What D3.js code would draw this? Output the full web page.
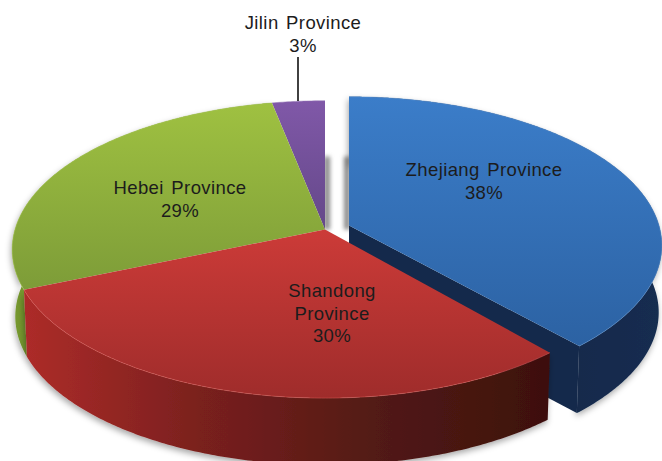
<!DOCTYPE html>
<html>
<head>
<meta charset="utf-8">
<script src="https://cdn.jsdelivr.net/npm/d3@7"></script>
<style>
	html, body { margin: 0; padding: 0; background: #fff; overflow: hidden; }
	text { font-family: "Liberation Sans", Arial, sans-serif; font-size: 18.5px; letter-spacing: 0.4px; word-spacing: 2px; fill: #1c1c1c; text-anchor: middle; }
</style>
</head>
<body>
<div id="chart-area"></div>
<script>
let width = 662;
let height = 461;

// Data
let provinces = ["Zhejiang Province", "Shandong Province", "Hebei Province", "Jilin Province"];
let shares = [38.7, 29.9, 28.3, 3.1];
let percentLabels = ["38%", "30%", "29%", "3%"];

// Colours per slice: top surface gradient, rim, wall stops
let topLight = ["#3b7dc9", "#cc3b38", "#9fc141", "#8058a8"];
let topDark = ["#2c62a3", "#9f2c2b", "#7d9c38", "#644889"];
let rimColor = ["#5b93d4", "#dc5a55", "#aecb5e", "#9373b5"];
let wallStops = [
	["#14294b", "#14294b", "#14294b", "#162d50"],
	["#ad2c29", "#7a201e", "#521a15", "#3d100d"],
	["#76982f", "#6f9030", "#68882c", "#60802a"],
	["#5a4080", "#5a4080", "#4a3468", "#4a3468"]
];

let svg = d3.select("#chart-area")
	.append("svg")
	.attr("width", width)
	.attr("height", height);

let defs = svg.append("defs");

// Tilted circle: k gives the perspective, so the near edge is bigger than the far edge
let k = 0.134;
let wallHeight = 67;
let bottomShrink = 0.99;
let centerX = 325;
let centerY = 229.5;

let xScale = d3.scaleLinear().domain([-1, 1]).range([centerX - 310, centerX + 310]);
let yScale = d3.scaleLinear().domain([-1, 1]).range([centerY - 146, centerY + 146]);

// Only Zhejiang is pulled out of the pie
let explodeX = [24, 0, 0, 0];
let explodeY = [-4, 0, 0, 0];

function project(angle, r, i, lower) {
	let u = r * Math.sin(angle);
	let v = -r * Math.cos(angle);
	let div = 1 - k * v;
	let x = xScale(u / div);
	let y = yScale(v / div);
	if (lower) {
		x = centerX + (x - centerX) * bottomShrink;
		y += wallHeight;
	}
	return [x + explodeX[i], y + explodeY[i]];
}

function arcPoints(d, i, lower) {
	let steps = Math.ceil((d.endAngle - d.startAngle) / 0.01);
	return d3.range(steps + 1).map(s => {
		let a = d.startAngle + (d.endAngle - d.startAngle) * s / steps;
		return project(a, 1, i, lower);
	});
}

let line = d3.line();

let pie = d3.pie().sort(null);
let slices = pie(shares);

// small gap between the pulled out slice and its neighbour
slices[0].endAngle -= 0.022;

// Gradients
slices.forEach((d, i) => {
	let top = defs.append("linearGradient")
		.attr("id", "top" + i)
		.attr("x1", 0).attr("y1", 0).attr("x2", 0).attr("y2", 1);
	top.append("stop").attr("offset", "0%").attr("stop-color", topLight[i]);
	top.append("stop").attr("offset", "100%").attr("stop-color", topDark[i]);

	let wall = defs.append("linearGradient")
		.attr("id", "wall" + i)
		.attr("x1", 0).attr("y1", 0).attr("x2", 1).attr("y2", 0);
	wallStops[i].forEach((c, j) => {
		wall.append("stop")
			.attr("offset", (j / (wallStops[i].length - 1) * 100) + "%")
			.attr("stop-color", c);
	});
});

let shadow = defs.append("filter")
	.attr("id", "soft")
	.attr("x", "-10%").attr("y", "-10%").attr("width", "120%").attr("height", "125%");
shadow.append("feDropShadow")
	.attr("dx", -1).attr("dy", 3)
	.attr("stdDeviation", 3)
	.attr("flood-color", "#000")
	.attr("flood-opacity", 0.35);

let blur = defs.append("filter")
	.attr("id", "blur")
	.attr("filterUnits", "userSpaceOnUse")
	.attr("x", 300).attr("y", 130).attr("width", 80).attr("height", 120);
blur.append("feGaussianBlur").attr("stdDeviation", 2);

function drawWall(d, i) {
	let upper = arcPoints(d, i, false);
	let lowerPts = arcPoints(d, i, true).reverse();
	svg.append("path")
		.attr("d", line(upper.concat(lowerPts)) + "Z")
		.attr("fill", `url(#wall${i})`)
		.attr("filter", "url(#soft)");
}

function drawTop(d, i) {
	let apex = project(0, 0, i, false);
	svg.append("path")
		.attr("d", line([apex].concat(arcPoints(d, i, false))) + "Z")
		.attr("fill", `url(#top${i})`);
	// light rim along the outer edge
	svg.append("path")
		.attr("d", line(arcPoints(d, i, false)))
		.attr("fill", "none")
		.attr("stroke", rimColor[i])
		.attr("stroke-width", 1)
		.attr("stroke-opacity", 0.5);
}

// Soft shadow inside the gap between Jilin and Zhejiang
let gapTop = yScale(-0.5);
let gapBottom = yScale(0);
[centerX + 2, project(0, 0, 0, false)[0] - 2].forEach(x => {
	svg.append("line")
		.attr("x1", x).attr("x2", x)
		.attr("y1", gapTop).attr("y2", gapBottom)
		.attr("stroke", "#8a8a8a")
		.attr("stroke-width", 6)
		.attr("filter", "url(#blur)");
});

// Zhejiang: outer wall, inner cut face, top
let zhejiang = slices[0];
drawWall(zhejiang, 0);
let apexTop = project(0, 0, 0, false);
let apexLow = project(0, 0, 0, true);
let tipTop = project(zhejiang.endAngle, 1, 0, false);
let tipLow = project(zhejiang.endAngle, 1, 0, true);
svg.append("path")
	.attr("d", line([apexTop, tipTop, tipLow, apexLow]) + "Z")
	.attr("fill", "#14294b");
drawTop(zhejiang, 0);

// Rest of the pie, back to front
drawWall(slices[2], 2);
drawWall(slices[1], 1);
drawTop(slices[3], 3);
drawTop(slices[2], 2);
drawTop(slices[1], 1);

// Labels
function drawLabel(lines, x, y) {
	lines.forEach((t, j) => {
		svg.append("text")
			.attr("x", x)
			.attr("y", y + j * 22.5)
			.text(t);
	});
}

drawLabel([provinces[0], percentLabels[0]], 484, 176);
drawLabel(["Shandong", "Province", percentLabels[1]], 332, 297);
drawLabel([provinces[2], percentLabels[2]], 180, 194);
drawLabel([provinces[3], percentLabels[3]], 303, 29);

// Leader line for Jilin
svg.append("line")
	.attr("x1", 298).attr("x2", 298)
	.attr("y1", 57).attr("y2", 101)
	.attr("stroke", "#111")
	.attr("stroke-width", 1.6);
</script>
</body>
</html>
